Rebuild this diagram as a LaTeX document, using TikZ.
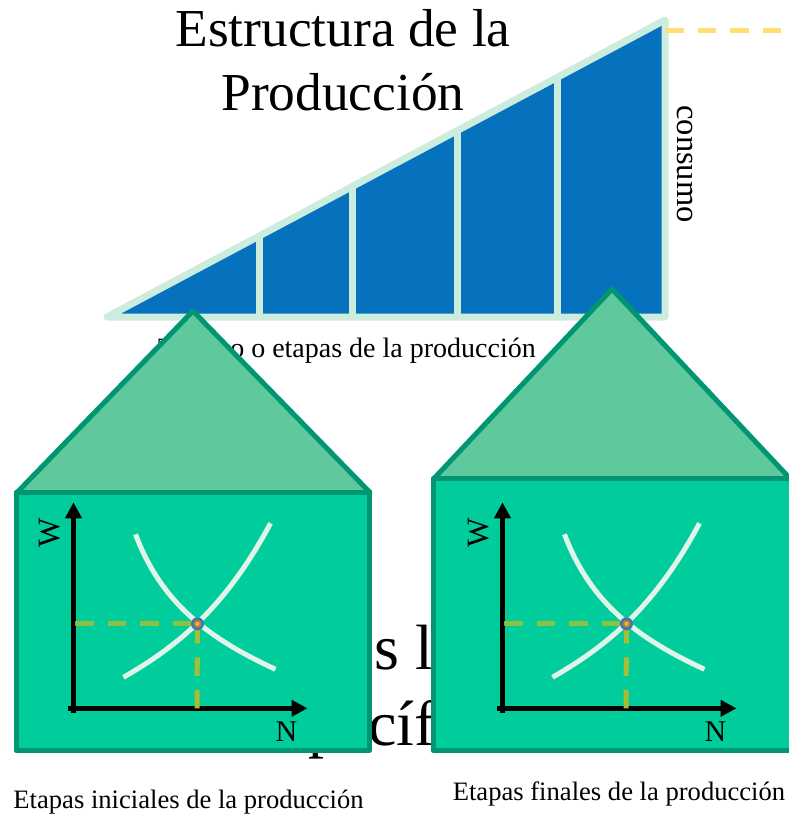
\documentclass[tikz,border=0pt]{standalone}
\usepackage{fontspec}
\setmainfont{Liberation Serif}
\usetikzlibrary{arrows.meta}
\definecolor{tribg}{RGB}{6,113,189}
\definecolor{triln}{RGB}{204,236,222}
\definecolor{boxbg}{RGB}{0,205,155}
\definecolor{boxln}{RGB}{0,150,113}
\definecolor{roofbg}{RGB}{96,200,157}
\definecolor{curve}{RGB}{224,244,234}
\definecolor{dashc}{RGB}{168,190,50}
\definecolor{dashy}{RGB}{255,222,117}
\definecolor{dota}{RGB}{70,115,170}
\definecolor{dotb}{RGB}{150,130,90}
\definecolor{dotc}{RGB}{250,180,20}
\tikzset{
  x=1pt,y=-1pt,
  txt/.style={inner sep=0pt,align=center,text=black},
  big/.style={txt,font=\fontsize{53.4}{64}\selectfont},
  hiddenbig/.style={txt,font=\fontsize{64}{76}\selectfont},
  captxt/.style={txt,font=\fontsize{26.6}{30}\selectfont},
  axis/.style={line width=5pt,draw=black,-{Triangle[length=16pt,width=16pt]}},
  guide/.style={line width=5pt,dash pattern=on 18.5pt off 14pt},
  curveln/.style={line width=5pt,draw=curve},
  house/.style={line width=5pt,draw=boxln,line join=round},
}
\newcommand{\labourgraph}[2]{%
  \begin{scope}[shift={(#1,#2)}]
    \coordinate (xs) at (-6,0);
    \coordinate (ys) at (0,5);
    \coordinate (xe) at (234,0);
    \coordinate (ye) at (0,-206);
    \coordinate (eq) at (124,-84.5);
    \coordinate (gy) at (1.5,-84.5);
    \coordinate (gx) at (123.5,0);
    \draw[axis] (xs) -- (xe);
    \draw[axis] (ys) -- (ye);
    \draw[curveln] (62,-174) .. controls (88,-105) and (135,-70) .. (202,-39);
    \draw[curveln] (50,-31) .. controls (100,-60) and (150,-97) .. (197,-185);
    \draw[guide,draw=dashc,opacity=.85] (gy) -- (eq);
    \draw[guide,draw=dashc] (gx) -- (eq);
    \fill[dota] (eq) circle (6.5pt);
    \fill[dotb] (eq) circle (4.2pt);
    \fill[dotc] (eq) circle (2.2pt);
    \node[txt,font=\fontsize{30}{34}\selectfont] (labN) at (213,23) {N};
    \node[txt,font=\fontsize{31}{34}\selectfont,rotate=90] (labW) at (-24,-175) {W};
  \end{scope}}
\begin{document}
\begin{tikzpicture}
\useasboundingbox (0,0) rectangle (788,816);
\node[big] (title) at (343,60.5) {Estructura de la\\Producción};
\coordinate (tl) at (107,317);
\coordinate (tr) at (665,317);
\coordinate (tt) at (665,20);
\fill[tribg] (tl) -- (tt) -- (tr) -- cycle;
\foreach \xx/\yy in {259.5/234,352/186,457/130,557/77}{
  \draw[line width=7pt,draw=triln] (\xx,\yy) -- (\xx,317);
}
\draw[line width=7pt,draw=triln,line join=round] (tl) -- (tt) -- (tr) -- cycle;
\draw[guide,draw=dashy] (665,30.5) -- (788,30.5);
\node[txt,rotate=-90,font=\fontsize{32.5}{36}\selectfont] (cons) at (685,164) {consumo};
\node[txt,font=\fontsize{28}{32}\selectfont] (tiempo) at (347,350.5) {Tiempo o etapas de la producción};
\node[hiddenbig] (merc) at (397,692) {Mercados laborales\\específicos};
% left house
\draw[house,fill=roofbg] (17,492.5) -- (193,311) -- (370,492.5) -- cycle;
\draw[house,fill=boxbg] (16,492.5) rectangle (369.5,750.5);
\labourgraph{73.5}{708.3}
% right house
\draw[house,fill=roofbg] (434,478.5) -- (612,289) -- (790,478.5) -- cycle;
\draw[house,fill=boxbg] (433,478.5) rectangle (792,750.5);
\labourgraph{502.5}{708.3}
\node[captxt] (c1) at (188.5,802.5) {Etapas iniciales de la producción};
\node[captxt] (c2) at (619,793.5) {Etapas finales de la producción};
\end{tikzpicture}
\end{document}
